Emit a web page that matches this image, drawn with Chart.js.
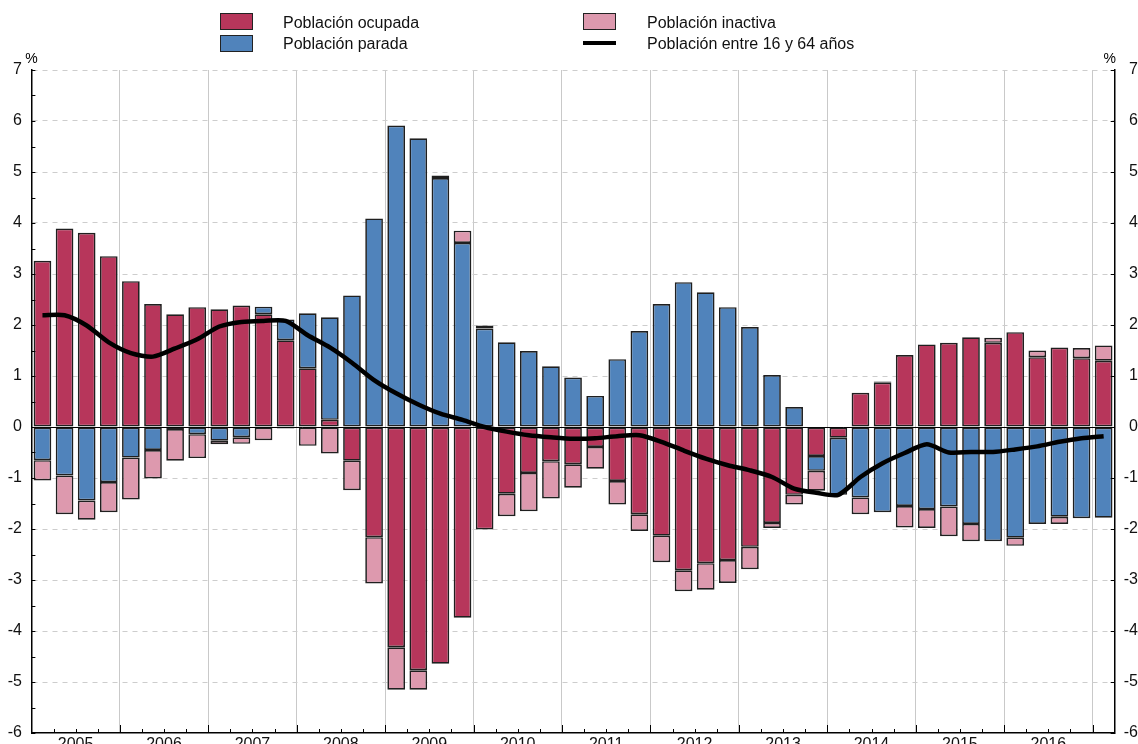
<!DOCTYPE html>
<html>
<head>
<meta charset="utf-8">
<title>Población 16-64 años</title>
<script src="https://cdn.jsdelivr.net/npm/chart.js@4.4.1/dist/chart.umd.min.js"></script>
<style>
body { margin:0; overflow:hidden; background:#fff; font-family:"Liberation Sans", Arial, sans-serif; }
#wrap { position:relative; width:1138px; height:770px; }
.sw { position:absolute; box-sizing:border-box; width:33px; height:17px; border:1px solid #222; }
.ln { position:absolute; width:33px; height:4px; background:#000; }
.lt { position:absolute; font-size:16px; line-height:20px; color:#111; white-space:nowrap; }
</style>
</head>
<body>
<div id="wrap">
	<div class="sw" style="left:220px;top:13px;background:#b7365b;"></div>
	<div class="lt" style="left:283px;top:13px;">Población ocupada</div>
	<div class="sw" style="left:220px;top:35px;background:#5083bb;"></div>
	<div class="lt" style="left:283px;top:34px;">Población parada</div>
	<div class="sw" style="left:583px;top:13px;background:#dd99ae;"></div>
	<div class="lt" style="left:647px;top:13px;">Población inactiva</div>
	<div class="ln" style="left:583px;top:41px;"></div>
	<div class="lt" style="left:647px;top:34px;">Población entre 16 y 64 años</div>
	<canvas id="chart"></canvas>
</div>

<script>
	// aportaciones trimestrales, 2005 T1 - 2017 T1 (%)
	var years = [2005, 2006, 2007, 2008, 2009, 2010, 2011, 2012, 2013, 2014, 2015, 2016, 2017];
	var quarters = [];
	for (var k = 0; k < years.length; k++) {
		for (var q = 1; q <= 4; q++) {
			if (years[k] === 2017 && q > 1) break;
			quarters.push(years[k] + ' T' + q);
		}
	}

	var ocupada = [
		3.26, 3.89, 3.81, 3.35,
		2.86, 2.41, 2.21, 2.35,
		2.31, 2.38, 2.21, 1.70,
		1.15, 0.14, -0.66, -2.16,
		-4.32, -4.77, -4.64, -3.74,
		-2.01, -1.31, -0.90, -0.67,
		-0.73, -0.39, -1.06, -1.71,
		-2.13, -2.81, -2.67, -2.61,
		-2.35, -1.88, -1.33, -0.57,
		-0.21, 0.67, 0.87, 1.41,
		1.62, 1.65, 1.76, 1.65,
		1.86, 1.37, 1.56, 1.35,
		1.30
	];
	var parada = [
		-0.65, -0.95, -1.44, -1.08,
		-0.60, -0.45, -0.04, -0.14,
		-0.27, -0.20, 0.15, 0.41,
		1.08, 2.01, 2.58, 4.09,
		5.91, 5.66, 4.88, 3.61,
		1.93, 1.66, 1.49, 1.19,
		0.97, 0.61, 1.33, 1.88,
		2.41, 2.84, 2.64, 2.35,
		1.96, 1.02, 0.39, -0.29,
		-1.12, -1.38, -1.67, -1.55,
		-1.61, -1.56, -1.90, -2.24,
		-2.17, -1.90, -1.76, -1.79,
		-1.78
	];
	var inactiva = [
		-0.40, -0.76, -0.38, -0.59,
		-0.82, -0.56, -0.62, -0.47,
		-0.07, -0.13, -0.26, -0.03,
		-0.37, -0.52, -0.58, -0.91,
		-0.83, -0.38, 0.05, 0.24,
		0.06, -0.44, -0.75, -0.73,
		-0.46, -0.43, -0.46, -0.33,
		-0.52, -0.41, -0.52, -0.45,
		-0.44, -0.10, -0.19, -0.39,
		0.00, -0.33, 0.02, -0.42,
		-0.37, -0.58, -0.34, 0.10,
		-0.16, 0.13, -0.14, 0.20,
		0.30
	];
	var pob16_64 = [
		2.19, 2.19, 1.99, 1.66,
		1.45, 1.38, 1.54, 1.72,
		1.97, 2.06, 2.08, 2.08,
		1.80, 1.56, 1.26, 0.92,
		0.66, 0.44, 0.26, 0.14,
		0.00, -0.09, -0.16, -0.20,
		-0.23, -0.22, -0.18, -0.16,
		-0.29, -0.46, -0.62, -0.75,
		-0.85, -0.98, -1.21, -1.29,
		-1.33, -0.98, -0.71, -0.51,
		-0.34, -0.50, -0.49, -0.49,
		-0.44, -0.38, -0.29, -0.22,
		-0.18
	];

	var fontFam = '"Liberation Sans", Arial, sans-serif';

	// marcas de los ejes, linea de cero y simbolos de %
	var axisMarks = {
		id: 'axisMarks',
		beforeDatasetsDraw: function (chart) {
			var ctx = chart.ctx, a = chart.chartArea, y = chart.scales.y;
			var y0 = Math.round(y.getPixelForValue(0)) + 0.5;
			ctx.save();
			ctx.strokeStyle = '#000';
			ctx.lineWidth = 1;
			ctx.beginPath();
			ctx.moveTo(a.left, y0);
			ctx.lineTo(a.right, y0);
			ctx.stroke();
			ctx.restore();
		},
		afterDraw: function (chart) {
			var ctx = chart.ctx, a = chart.chartArea, x = chart.scales.x, y = chart.scales.y;
			ctx.save();
			ctx.strokeStyle = '#000';
			ctx.lineWidth = 1;
			ctx.beginPath();
			for (var v = y.min; v <= y.max; v += 0.5) {
				var py = Math.round(y.getPixelForValue(v)) + 0.5;
				ctx.moveTo(a.left, py);
				ctx.lineTo(a.left + 4, py);
				if (v % 1 === 0) {
					ctx.moveTo(a.right - 4, py);
					ctx.lineTo(a.right, py);
				}
			}
			var half = (x.getPixelForValue(1) - x.getPixelForValue(0)) / 2;
			for (var i = 1; i < quarters.length; i++) {
				var px = Math.round(x.getPixelForValue(i - 1) + half) + 0.5;
				var len = (i % 4 === 0) ? 8 : 4;
				ctx.moveTo(px, a.bottom);
				ctx.lineTo(px, a.bottom - len);
			}
			ctx.stroke();
			ctx.font = '14px ' + fontFam;
			ctx.fillStyle = '#000';
			ctx.textAlign = 'center';
			ctx.textBaseline = 'alphabetic';
			ctx.fillText('%', a.left, a.top - 7);
			ctx.fillText('%', a.right - 5, a.top - 7);
			ctx.restore();
		}
	};

	var barStyle = {
		borderColor: '#1f1f1f',
		borderWidth: 1.7,
		borderSkipped: false,
		barPercentage: 0.8,
		categoryPercentage: 1.0,
		stack: 'barras',
		order: 1
	};

	var chart = new Chart(document.getElementById('chart'), {
		type: 'bar',
		data: {
			labels: quarters,
			datasets: [
				Object.assign({ label: 'Población ocupada', data: ocupada, backgroundColor: '#b7365b' }, barStyle),
				Object.assign({ label: 'Población parada', data: parada, backgroundColor: '#5083bb' }, barStyle),
				Object.assign({ label: 'Población inactiva', data: inactiva, backgroundColor: '#dd99ae' }, barStyle),
				{
					type: 'line',
					label: 'Población entre 16 y 64 años',
					data: pob16_64,
					borderColor: '#000',
					borderWidth: 4.5,
					pointRadius: 0,
					tension: 0.25,
					fill: false,
					stack: 'linea',
					order: 0
				}
			]
		},
		plugins: [axisMarks],
		options: {
			responsive: true,
			maintainAspectRatio: false,
			animation: false,
			layout: { padding: { top: 70, left: 0, right: 0, bottom: 0 } },
			plugins: {
				legend: { display: false },
				tooltip: { enabled: false }
			},
			scales: {
				x: {
					type: 'category',
					stacked: true,
					offset: true,
					grid: {
						offset: true,
						drawTicks: false,
						lineWidth: 1,
						color: function (c) { return (c.index % 4 === 0 && c.index > 0) ? '#c9c9c9' : 'rgba(0,0,0,0)'; }
					},
					border: { display: true, color: '#000', width: 1.5 },
					ticks: {
						autoSkip: false,
						maxRotation: 0,
						minRotation: 0,
						padding: 2,
						labelOffset: 11,
						color: '#111',
						font: { family: fontFam, size: 16 },
						callback: function (val, i) { return (i % 4 === 1) ? quarters[i].slice(0, 4) : ''; }
					},
					afterFit: function (s) { s.height = 37; }
				},
				y: {
					position: 'left',
					stacked: true,
					min: -6,
					max: 7,
					grid: {
						drawTicks: false,
						lineWidth: 1,
						color: function (c) { return (c.tick && (c.tick.value === 0 || c.tick.value === -6)) ? 'rgba(0,0,0,0)' : '#cdcdcd'; }
					},
					border: { display: true, color: '#000', width: 1.5, dash: [5, 5] },
					ticks: { stepSize: 1, padding: 9.5, color: '#111', font: { family: fontFam, size: 16 } },
					afterFit: function (s) { s.width = 31.4; }
				},
				y2: {
					position: 'right',
					min: -6,
					max: 7,
					grid: { drawOnChartArea: false, drawTicks: false },
					border: { display: true, color: '#000', width: 1.5 },
					ticks: { stepSize: 1, padding: 8, crossAlign: 'far', color: '#111', font: { family: fontFam, size: 16 } },
					afterFit: function (s) { s.width = 23.3; }
				}
			}
		}
	});
</script>
</body>
</html>
